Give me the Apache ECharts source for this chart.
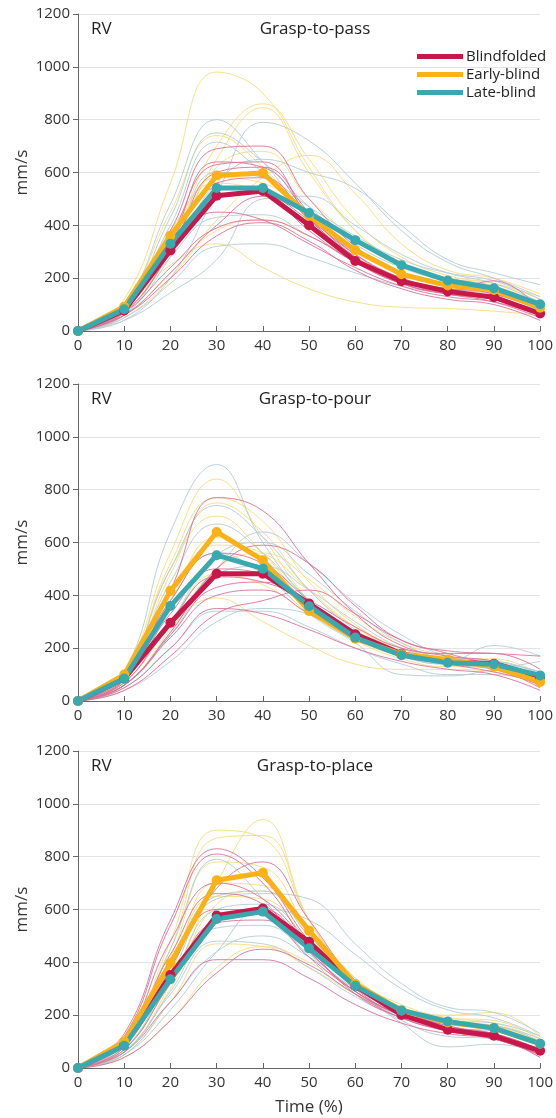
<!DOCTYPE html>
<html>
<head>
<meta charset="utf-8">
<script src="https://cdn.jsdelivr.net/npm/echarts@6/dist/echarts.min.js"></script>
<style>
  html, body { margin: 0; padding: 0; background: #fff; }
  #chart { width: 556px; height: 1118px; }
</style>
</head>
<body>
<div id="chart"></div>
<script>
// time points (% of movement)
var timePoints = [0, 10, 20, 30, 40, 50, 60, 70, 80, 90, 100];
var panelTitles = ['Grasp-to-pass', 'Grasp-to-pour', 'Grasp-to-place'];
var groupNames = ['Blindfolded', 'Early-blind', 'Late-blind'];

// group means, mm/s
var passBlindfolded = [0, 78, 305, 512, 530, 400, 265, 188, 150, 128, 66];
var passEarly = [0, 92, 361, 589, 598, 436, 306, 215, 172, 155, 88];
var passLate = [0, 82, 330, 541, 541, 447, 344, 249, 191, 162, 101];

var pourBlindfolded = [0, 85, 296, 482, 482, 369, 253, 179, 148, 141, 91];
var pourEarly = [0, 100, 417, 640, 533, 341, 236, 177, 157, 130, 72];
var pourLate = [0, 85, 360, 552, 501, 359, 240, 173, 145, 139, 97];

var placeBlindfolded = [0, 88, 352, 577, 604, 478, 311, 201, 145, 122, 65];
var placeEarly = [0, 100, 397, 711, 739, 520, 318, 218, 172, 151, 92];
var placeLate = [0, 84, 336, 564, 592, 453, 311, 218, 176, 151, 92];

// single participants, grasp-to-pass
var passBlindfoldedSubj = [
    [0, 90, 380, 690, 700, 500, 320, 220, 170, 140, 80],
    [0, 80, 340, 640, 620, 440, 280, 190, 150, 120, 70],
    [0, 70, 300, 600, 620, 450, 290, 200, 160, 150, 90],
    [0, 100, 320, 450, 420, 330, 240, 170, 130, 110, 60],
    [0, 60, 220, 400, 510, 420, 290, 200, 150, 120, 60],
    [0, 70, 240, 390, 420, 360, 260, 180, 140, 120, 60],
    [0, 90, 340, 540, 520, 380, 260, 180, 140, 120, 60],
    [0, 80, 320, 560, 580, 420, 280, 190, 150, 190, 80],
    [0, 60, 200, 360, 410, 340, 230, 160, 120, 100, 40],
    [0, 90, 360, 630, 640, 430, 270, 180, 140, 110, 50]
];
var passEarlySubj = [
    [0, 120, 560, 980, 900, 620, 380, 250, 200, 180, 120],
    [0, 80, 340, 700, 860, 650, 420, 280, 210, 180, 130],
    [0, 70, 300, 650, 845, 600, 380, 260, 200, 170, 110],
    [0, 50, 200, 420, 580, 665, 520, 330, 230, 200, 140],
    [0, 100, 450, 740, 620, 420, 300, 220, 180, 150, 90],
    [0, 90, 250, 330, 240, 160, 110, 90, 85, 75, 60],
    [0, 70, 310, 620, 680, 500, 350, 250, 190, 160, 100],
    [0, 80, 330, 580, 560, 430, 300, 220, 170, 140, 90],
    [0, 60, 220, 380, 420, 360, 270, 200, 150, 120, 80],
    [0, 90, 380, 560, 520, 400, 280, 200, 160, 140, 100]
];
var passLateSubj = [
    [0, 100, 480, 800, 640, 430, 300, 220, 180, 150, 100],
    [0, 50, 200, 520, 790, 720, 560, 380, 260, 200, 130],
    [0, 90, 430, 750, 640, 470, 330, 240, 190, 160, 110],
    [0, 80, 400, 715, 600, 450, 340, 250, 200, 170, 100],
    [0, 40, 180, 320, 330, 280, 220, 170, 140, 120, 80],
    [0, 60, 280, 560, 650, 600, 540, 400, 270, 220, 175],
    [0, 60, 280, 430, 440, 360, 270, 200, 160, 140, 90],
    [0, 70, 300, 600, 580, 470, 360, 270, 220, 190, 120],
    [0, 40, 145, 270, 500, 510, 400, 290, 220, 180, 110]
];

// single participants, grasp-to-pour
var pourBlindfoldedSubj = [
    [0, 80, 420, 770, 720, 520, 330, 210, 170, 150, 90],
    [0, 60, 260, 500, 590, 520, 360, 230, 190, 180, 170],
    [0, 70, 300, 470, 450, 380, 280, 200, 180, 180, 120],
    [0, 40, 170, 330, 380, 420, 330, 230, 180, 130, 50],
    [0, 50, 200, 350, 330, 270, 200, 150, 120, 100, 40],
    [0, 60, 250, 430, 450, 370, 260, 180, 150, 120, 60],
    [0, 80, 330, 500, 480, 360, 240, 170, 140, 110, 70],
    [0, 90, 380, 560, 520, 380, 250, 180, 150, 130, 80],
    [0, 60, 240, 400, 420, 330, 240, 170, 150, 140, 100]
];
var pourEarlySubj = [
    [0, 110, 560, 840, 620, 380, 240, 170, 150, 130, 80],
    [0, 100, 520, 770, 680, 450, 290, 200, 160, 140, 80],
    [0, 90, 480, 750, 640, 420, 280, 190, 150, 130, 70],
    [0, 100, 500, 700, 560, 360, 240, 170, 140, 120, 60],
    [0, 80, 400, 590, 560, 420, 280, 200, 160, 140, 90],
    [0, 70, 280, 390, 300, 210, 140, 120, 120, 110, 60],
    [0, 60, 270, 500, 560, 460, 320, 220, 170, 140, 80],
    [0, 80, 380, 620, 520, 340, 230, 160, 130, 130, 70],
    [0, 70, 300, 480, 440, 330, 240, 180, 150, 160, 100]
];
var pourLateSubj = [
    [0, 110, 640, 895, 600, 380, 250, 170, 140, 140, 110],
    [0, 100, 500, 740, 620, 420, 270, 180, 150, 210, 170],
    [0, 90, 450, 670, 560, 380, 250, 170, 140, 150, 100],
    [0, 60, 250, 500, 640, 520, 370, 250, 170, 150, 90],
    [0, 50, 200, 340, 340, 280, 200, 140, 100, 100, 70],
    [0, 40, 150, 300, 350, 330, 260, 180, 140, 120, 80],
    [0, 70, 300, 550, 600, 480, 340, 220, 160, 150, 110],
    [0, 60, 260, 480, 510, 420, 300, 200, 150, 130, 90],
    [0, 80, 380, 560, 480, 330, 220, 100, 95, 120, 150]
];

// single participants, grasp-to-place
var placeBlindfoldedSubj = [
    [0, 130, 560, 830, 720, 480, 300, 200, 150, 120, 60],
    [0, 120, 540, 810, 700, 460, 280, 190, 140, 110, 50],
    [0, 80, 380, 680, 780, 560, 330, 210, 160, 120, 60],
    [0, 100, 430, 660, 620, 440, 290, 200, 150, 130, 70],
    [0, 60, 250, 410, 410, 340, 240, 170, 130, 110, 50],
    [0, 40, 180, 360, 450, 390, 280, 190, 140, 110, 50],
    [0, 90, 380, 600, 600, 440, 290, 200, 150, 120, 60],
    [0, 70, 320, 550, 560, 420, 290, 200, 150, 120, 40],
    [0, 110, 480, 700, 640, 470, 320, 220, 160, 130, 70]
];
var placeEarlySubj = [
    [0, 60, 320, 700, 940, 560, 330, 220, 180, 150, 90],
    [0, 100, 480, 900, 870, 560, 330, 220, 170, 160, 100],
    [0, 90, 450, 870, 880, 560, 340, 240, 190, 170, 110],
    [0, 80, 420, 780, 760, 520, 330, 230, 180, 160, 100],
    [0, 70, 360, 700, 690, 500, 330, 230, 190, 180, 110],
    [0, 50, 250, 470, 460, 380, 280, 200, 170, 150, 90],
    [0, 40, 180, 380, 460, 400, 300, 210, 170, 140, 80],
    [0, 80, 400, 650, 640, 480, 320, 230, 200, 210, 120],
    [0, 60, 300, 620, 670, 520, 340, 230, 180, 150, 90]
];
var placeLateSubj = [
    [0, 90, 450, 790, 640, 420, 280, 200, 170, 160, 100],
    [0, 70, 350, 640, 660, 640, 470, 320, 230, 210, 130],
    [0, 50, 250, 440, 500, 420, 300, 210, 170, 160, 110],
    [0, 60, 280, 480, 470, 380, 270, 190, 150, 140, 90],
    [0, 80, 400, 650, 670, 500, 330, 230, 180, 170, 120],
    [0, 60, 290, 530, 540, 430, 290, 180, 120, 110, 40],
    [0, 70, 330, 600, 620, 480, 310, 170, 80, 90, 60],
    [0, 50, 220, 440, 600, 560, 430, 300, 220, 190, 120]
];

var meanColors = ['#c8174a', '#fcb216', '#38a9ae'];
var thinColors = ['#dc7096', '#f6dc80', '#b3ccd5'];

var panels = [
    {means: [passBlindfolded, passEarly, passLate], subjects: [passBlindfoldedSubj, passEarlySubj, passLateSubj]},
    {means: [pourBlindfolded, pourEarly, pourLate], subjects: [pourBlindfoldedSubj, pourEarlySubj, pourLateSubj]},
    {means: [placeBlindfolded, placeEarly, placeLate], subjects: [placeBlindfoldedSubj, placeEarlySubj, placeLateSubj]}
];

var gridTops = [14, 384, 751];
var gridHeight = 317;
var fontName = 'Open Sans';

function toPairs(values) {
    return timePoints.map(function (t, i) { return [t, values[i]]; });
}

var grids = [], xAxes = [], yAxes = [], titles = [], series = [];

gridTops.forEach(function (top, p) {
    grids.push({left: 78, right: 12, top: top, height: gridHeight});

    xAxes.push({
        type: 'value', gridIndex: p, min: 0, max: 100, interval: 10,
        axisLine: {lineStyle: {color: '#666', width: 1}},
        axisTick: {inside: true, length: 5, lineStyle: {color: '#666'}},
        axisLabel: {fontSize: 15, color: '#333', margin: 7, fontFamily: fontName},
        splitLine: {show: false},
        name: p === 2 ? 'Time (%)' : '',
        nameLocation: 'middle', nameGap: 31, nameMoveOverlap: false,
        nameTextStyle: {fontSize: 17, color: '#333', fontFamily: fontName}
    });

    yAxes.push({
        type: 'value', gridIndex: p, min: 0, max: 1200, interval: 200,
        axisLine: {show: true, lineStyle: {color: '#666', width: 1}},
        axisTick: {show: true, length: 5, lineStyle: {color: '#666'}},
        axisLabel: {
            fontSize: 15, color: '#333', margin: 8, fontFamily: fontName,
            formatter: function (v) { return String(v); }
        },
        splitLine: {lineStyle: {color: '#e3e3e3'}},
        name: 'mm/s', nameLocation: 'middle', nameGap: 47, nameMoveOverlap: false,
        nameTextStyle: {fontSize: 17, color: '#333', fontFamily: fontName}
    });

    titles.push({
        text: 'RV', left: 86, top: top + 2,
        textStyle: {fontSize: 17, fontWeight: 'normal', color: '#222', fontFamily: fontName}
    });
    titles.push({
        text: panelTitles[p], left: 310, top: top + 2, textAlign: 'center',
        textStyle: {fontSize: 17, fontWeight: 'normal', color: '#222', fontFamily: fontName}
    });

    // thin individual curves first
    [1, 2, 0].forEach(function (g) {
        panels[p].subjects[g].forEach(function (subj, k) {
            series.push({
                type: 'line', name: groupNames[g] + ' subject ' + (k + 1),
                xAxisIndex: p, yAxisIndex: p,
                data: toPairs(subj), smooth: 0.45, showSymbol: false, silent: true,
                lineStyle: {color: thinColors[g], width: 0.9},
                z: 1
            });
        });
    });

    // group means on top
    [0, 1, 2].forEach(function (g) {
        series.push({
            type: 'line', name: groupNames[g],
            xAxisIndex: p, yAxisIndex: p,
            data: toPairs(panels[p].means[g]),
            symbol: 'circle', symbolSize: 10, showSymbol: true,
            lineStyle: {color: meanColors[g], width: 5},
            itemStyle: {color: meanColors[g]},
            z: 3
        });
    });
});

var chart = echarts.init(document.getElementById('chart'));
chart.setOption({
    animation: false,
    backgroundColor: '#fff',
    title: titles,
    legend: {
        data: groupNames, orient: 'vertical', left: 417, top: 49,
        icon: 'rect', itemWidth: 46, itemHeight: 5, itemGap: 3, padding: 0,
        textStyle: {fontSize: 15, color: '#222', fontFamily: fontName, padding: [0, 0, 0, -2]}
    },
    grid: grids,
    xAxis: xAxes,
    yAxis: yAxes,
    series: series
});
</script>
</body>
</html>
